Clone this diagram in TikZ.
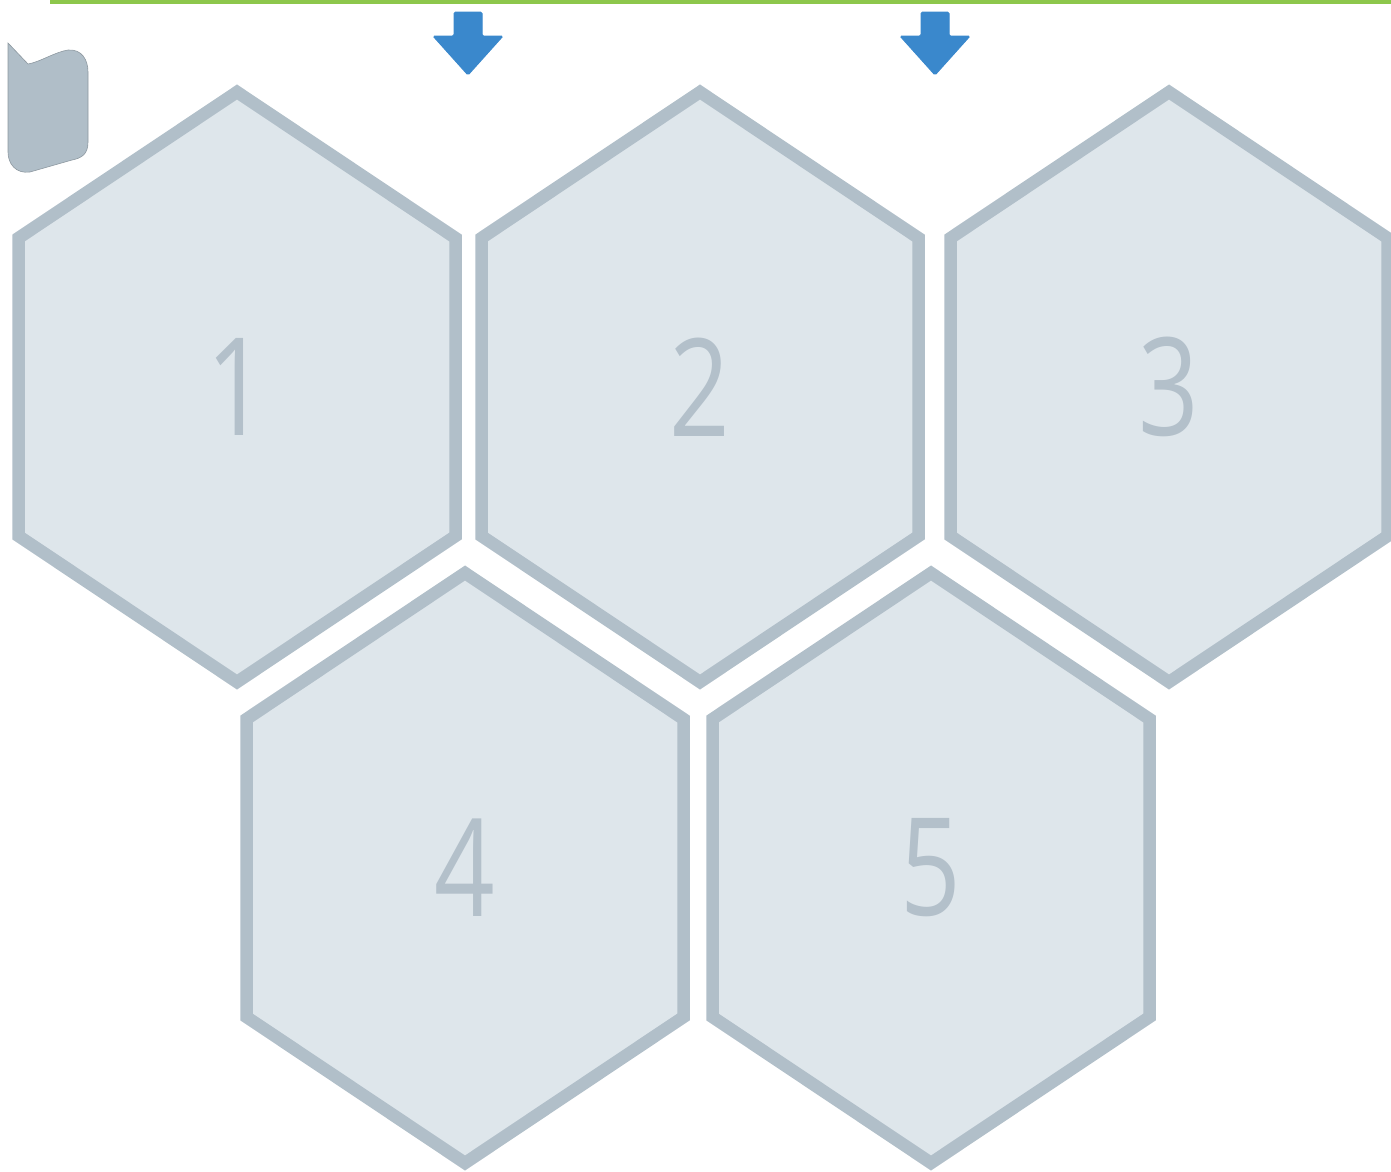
\documentclass[tikz,border=0pt]{standalone}
\usepackage{fontspec}
\setmainfont{Open Sans}
\usepackage{tikz}
\usetikzlibrary{positioning}
\definecolor{CellFill}{HTML}{DEE6EB}
\definecolor{CellEdge}{HTML}{B1BFC9}
\definecolor{CellText}{HTML}{B3C0CA}
\definecolor{TabGray}{HTML}{B0BEC8}
\definecolor{ArrowBlue}{HTML}{3A88CC}
\definecolor{LineGreen}{HTML}{8DC74C}
\tikzset{
  cellline/.style={draw=CellEdge,fill=CellFill,line width=12.5pt,line join=miter},
  celllabel/.style={text=CellText,font=\fontsize{136}{136}\selectfont,inner sep=0pt,xscale=0.78},
  downarrow/.style={fill=ArrowBlue,draw=ArrowBlue,line width=1pt,rounded corners=1.5pt},
  hexcell/.pic={
    \path[cellline] (0,-295) -- (218.5,-149) -- (218.5,149) -- (0,295)
      -- (-218.5,149) -- (-218.5,-149) -- cycle;
  }
}
\begin{document}
\begin{tikzpicture}[x=1pt,y=-1pt]
\useasboundingbox (0,0) rectangle (1391,1171);
\clip (0,0) rectangle (1391,1171);
% top rule
\draw[LineGreen,line width=4.5pt] (50,1.5) -- (1391,1.5);
% tab in the corner
\filldraw[fill=TabGray,draw=TabGray!80!black,line width=0.6pt]
  (8,43) -- (28,64) .. controls (40,62) and (55,52) .. (68,50)
  .. controls (82,49) and (88,60) .. (88,72) -- (88,142)
  .. controls (88,154) and (82,158) .. (72,160)
  -- (30,172) .. controls (16,174) and (8,164) .. (8,152) -- cycle;
% cells
\foreach \n/\x/\y in {1/237/387,2/700/387,3/1169/387,4/465/868,5/931/868}{
  \pic at (\x,\y) {hexcell};
  \node[celllabel] (cell\n) at (\x,\y) {\n};
}
% arrows over the gaps
\foreach \x [count=\i] in {468,935}{
  \coordinate (drop\i) at (\x,75);
  \path[downarrow] (\x-14,12) -- (\x+14,12) -- (\x+14,36) -- (\x+35,36)
    -- (drop\i) -- (\x-35,36) -- (\x-14,36) -- cycle;
}
\end{tikzpicture}
\end{document}
